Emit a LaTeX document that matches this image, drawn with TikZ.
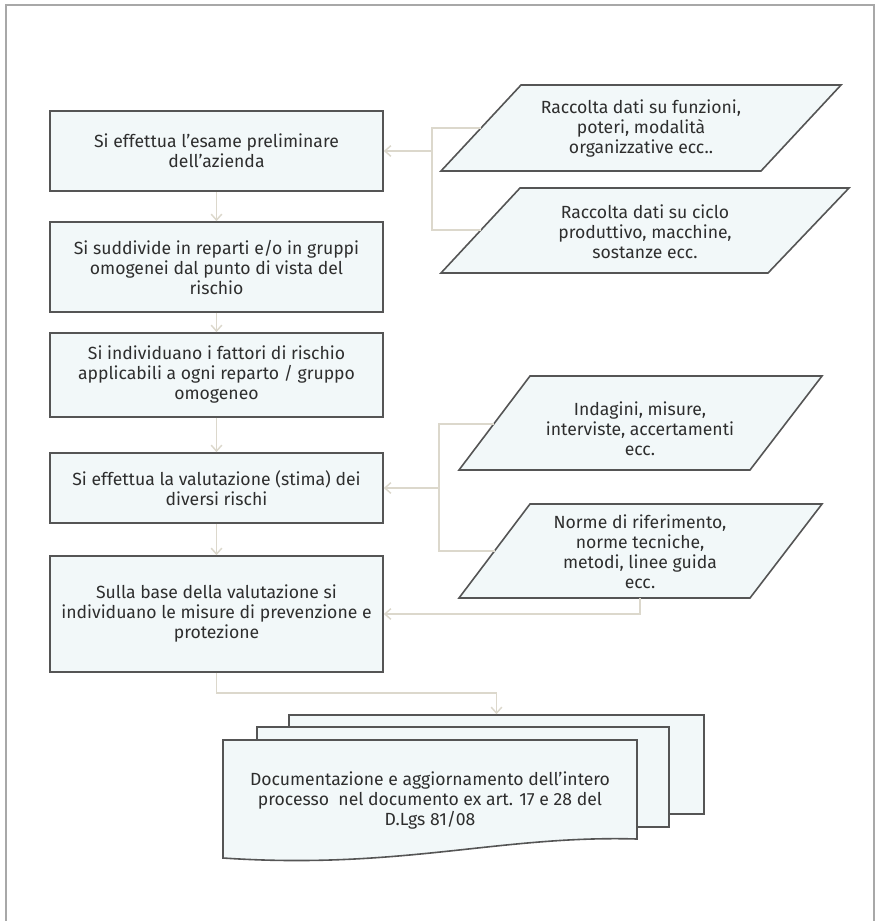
\documentclass[tikz,border=0pt]{standalone}
\usepackage{fontspec}
\setmainfont{Fira Sans}
\usetikzlibrary{arrows.meta,calc}
\definecolor{boxfill}{HTML}{F2F8F9}
\definecolor{boxline}{HTML}{555555}
\definecolor{connc}{HTML}{DCD8CC}
\definecolor{txtc}{HTML}{2E2E2E}
\definecolor{framec}{HTML}{A8A8A8}
\begin{document}
\begin{tikzpicture}[x=0.75pt,y=-0.75pt,
  txtfont/.style={font=\fontsize{13.2}{15}\selectfont, text=txtc, align=center},
  stepbox/.style={draw=boxline, fill=boxfill, line width=1.2pt, txtfont,
    minimum width=249.75pt, inner sep=0pt},
  parabox/.style={draw=boxline, fill=boxfill, line width=1.2pt},
  paratext/.style={txtfont, inner sep=0pt},
  docbox/.style={draw=boxline, fill=boxfill, line width=1.2pt, inner sep=0pt},
  conn/.style={draw=connc, line width=1.1pt},
  arr/.style={conn, -{Straight Barb[length=4.5pt,width=8pt,line width=1.1pt]}},
  framel/.style={draw=framec, line width=1pt}
]
\useasboundingbox (0,0) rectangle (875,921);
\draw[framel] (6,921) -- (6,5) -- (874,5) -- (874,921);

% main steps
\node[stepbox, minimum height=60pt]   (b1) at (216.5,151) {Si effettua l’esame preliminare\\dell’azienda};
\node[stepbox, minimum height=67.5pt] (b2) at (216.5,267) {Si suddivide in reparti e/o in gruppi\\omogenei dal punto di vista del\\rischio};
\node[stepbox, minimum height=63pt]   (b3) at (216.5,375) {Si individuano i fattori di rischio\\applicabili a ogni reparto / gruppo\\omogeneo};
\node[stepbox, minimum height=52.5pt] (b4) at (216.5,488) {Si effettua la valutazione (stima) dei\\diversi rischi};
\node[stepbox, minimum height=87pt]   (b5) at (216.5,614) {Sulla base della valutazione si\\individuano le misure di prevenzione e\\protezione};

% parallelograms
\draw[parabox] (441,171) -- (521,85) -- (841,85) -- (761,171) -- cycle;
\node[paratext] (p1) at (641,129) {Raccolta dati su funzioni,\\poteri, modalità\\organizzative ecc..};
\coordinate (p1w) at (481,128);
\draw[parabox] (441,273) -- (520,188) -- (849,188) -- (768,273) -- cycle;
\node[paratext] (p2) at (645,232) {Raccolta dati su ciclo\\produttivo, macchine,\\sostanze ecc.};
\coordinate (p2w) at (481,230);
\draw[parabox] (459,470) -- (530,376) -- (822,376) -- (750,470) -- cycle;
\node[paratext] (p3) at (640,429) {Indagini, misure,\\interviste, accertamenti\\ecc.};
\coordinate (p3w) at (494,424);
\draw[parabox] (459,598) -- (530,504) -- (822,504) -- (750,598) -- cycle;
\node[paratext] (p4) at (640,552) {Norme di riferimento,\\norme tecniche,\\metodi, linee guida\\ecc.};
\coordinate (p4w) at (494.5,551);
\coordinate (p4s) at (640,598);

% documents
\node[docbox, minimum width=311.25pt, minimum height=74.25pt] (d3) at (496.5,764.5) {};
\node[docbox, minimum width=309pt, minimum height=75pt] (d2) at (463,777) {};
\draw[parabox] (223,740) -- (637,740) -- (637,839)
  .. controls (500,835) and (400,870) .. (223,858) -- cycle;
\node[paratext] (d1) at (430,800) {Documentazione e aggiornamento dell’intero\\processo\ \ nel documento ex art. 17 e 28 del\\D.Lgs 81/08};

% connectors
\draw[arr] (b1) -- (b2);
\draw[arr] (b2) -- (b3);
\draw[arr] (b3) -- (b4);
\draw[arr] (b4) -- (b5);

\coordinate (j1) at (432,151);
\draw[conn] (p1w) -- (432,128) -- (432,230) -- (p2w);
\draw[arr] (j1) -- (b1.east);

\coordinate (j2) at (439,488);
\draw[conn] (p3w) -- (439,424) -- (439,551) -- (p4w);
\draw[arr] (j2) -- (b4.east);

\draw[arr] (p4s) |- (b5.east);
\draw[arr] (b5.south) -- ++(0,20) -| (d3.north);
\end{tikzpicture}
\end{document}
